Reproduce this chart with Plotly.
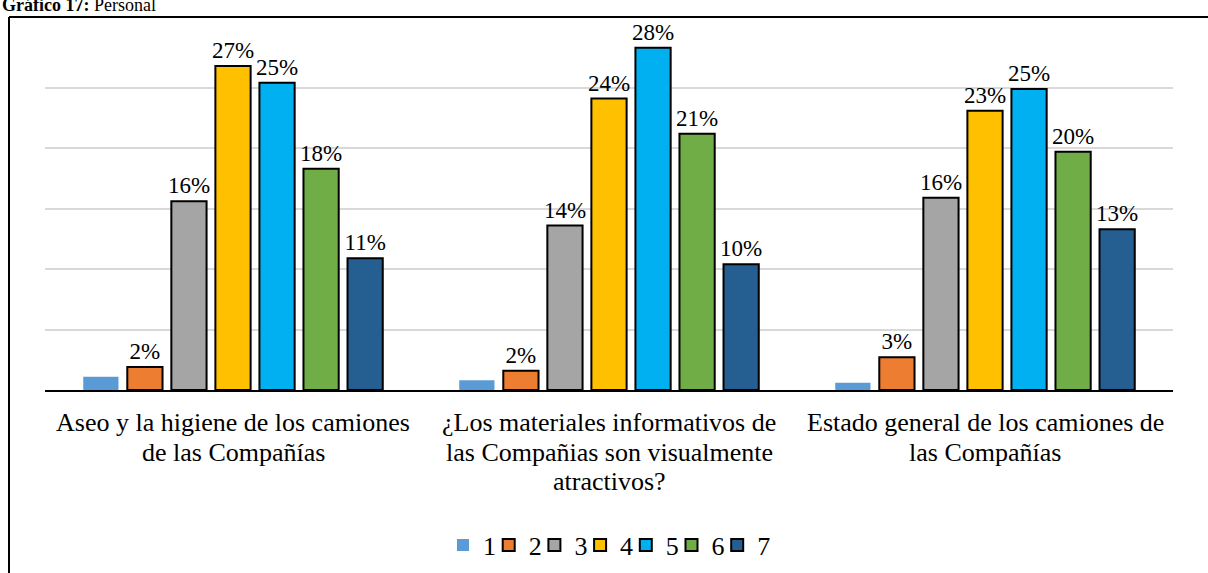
import plotly.graph_objects as go

categories = [
    "Aseo y la higiene de los camiones<br>de las Compañías",
    "¿Los materiales informativos de<br>las Compañias son visualmente<br>atractivos?",
    "Estado general de los camiones de<br>las Compañías",
]
series_names = ["1", "2", "3", "4", "5", "6", "7"]
s1 = [1.1, 0.8, 0.6]
s2 = [1.9, 1.6, 2.7]
s3 = [15.6, 13.6, 15.9]
s4 = [26.8, 24.1, 23.1]
s5 = [25.4, 28.3, 24.9]
s6 = [18.3, 21.2, 19.7]
s7 = [10.9, 10.4, 13.3]
colors = ["#5B9BD5", "#ED7D31", "#A5A5A5", "#FFC000", "#00B0F0", "#70AD47", "#255E91"]
show_labels = [False, True, True, True, True, True, True]

FONT = "Liberation Serif, Times New Roman, serif"
W, H = 1208, 573
L, R, T, B = 45, 35, 27, 183
pw, ph = W - L - R, H - T - B

def px_x(px):
    return (px - L) / pw

def px_y(py):
    return (H - B - py) / ph

fig = go.Figure()
legend_names = []
for i, (name, vals, col, lab) in enumerate(zip(series_names, [s1, s2, s3, s4, s5, s6, s7], colors, show_labels)):
    lg = "legend" if i == 0 else f"legend{i + 1}"
    legend_names.append(lg)
    fig.add_trace(go.Bar(
        name=name, x=categories, y=vals, legend=lg,
        marker=dict(color=col, line=dict(color="#000000" if lab else col, width=2 if lab else 0)),
        text=[f"{round(v):d}%" for v in vals] if lab else None,
        textposition="outside" if lab else "none",
        textfont=dict(family=FONT, size=23, color="#000000"),
        constraintext="none",
        cliponaxis=False,
    ))

fig.update_layout(
    width=W, height=H,
    margin=dict(l=L, r=R, t=T, b=B, autoexpand=False),
    paper_bgcolor="white", plot_bgcolor="white",
    barmode="group", bargap=0.18, bargroupgap=0.2,
    font=dict(family=FONT, size=24, color="#000000"),
    showlegend=True,
    xaxis=dict(showline=True, linecolor="#000000", linewidth=2, ticks="", showticklabels=False),
    yaxis=dict(range=[0, 30.02], dtick=5, showticklabels=False, showgrid=True,
               gridcolor="#D9D9D9", gridwidth=1.5, zeroline=False, showline=False),
)

# one legend per series so the entries can sit as close together as in the reference
for i, lg in enumerate(legend_names):
    fig.update_layout({lg: dict(orientation="h", x=px_x(443 + 45.7 * i), xanchor="left",
                                y=px_y(545), yanchor="middle", bgcolor="rgba(0,0,0,0)",
                                font=dict(family=FONT, size=26), itemwidth=30)})

# category labels, one line at a time for Word-like line spacing
line_y = [423, 452, 481]
for cat in categories:
    for i, line in enumerate(cat.split("<br>")):
        fig.add_annotation(text=line, x=cat, xref="x", yref="paper", y=px_y(line_y[i]),
                           yanchor="middle", xanchor="center", showarrow=False,
                           font=dict(family=FONT, size=26, color="#000000"))

# outer frame (top and left edges visible)
fig.add_shape(type="line", xref="paper", yref="paper",
              x0=px_x(9), x1=px_x(W + 5), y0=px_y(17), y1=px_y(17),
              line=dict(color="#000000", width=2))
fig.add_shape(type="line", xref="paper", yref="paper",
              x0=px_x(9), x1=px_x(9), y0=px_y(17), y1=px_y(H + 5),
              line=dict(color="#000000", width=2))

fig.add_annotation(text="<b>Gráfico 17:</b> Personal", xref="paper", yref="paper",
                   x=px_x(0), y=px_y(17), xanchor="left", yanchor="bottom",
                   showarrow=False, font=dict(family=FONT, size=18, color="#000000"))

fig.write_html("out.html", config={"displayModeBar": False},
               post_script="document.body.style.margin='0';")
